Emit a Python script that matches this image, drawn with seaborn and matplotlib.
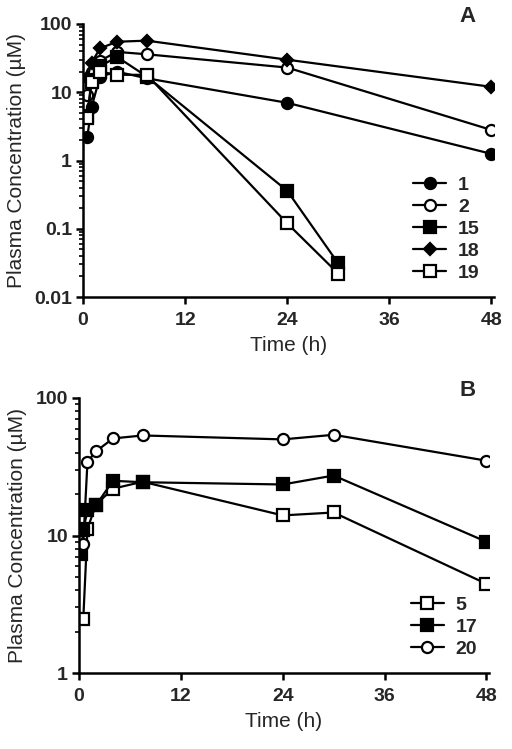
import numpy as np
import pandas as pd
import matplotlib
matplotlib.use("Agg")
import matplotlib.pyplot as plt
import matplotlib.ticker as mticker
import seaborn as sns

# ---------------- data ----------------
# Panel A
time_a_long = [0.5, 1, 2, 4, 7.5, 24, 48]
time_a_short = [0.5, 1, 2, 4, 7.5, 24, 30]
conc_1 = [2.2, 6.0, 17, 20, 16, 7.0, 1.25]
conc_2 = [9.0, 20, 29, 39, 36, 23, 2.8]
conc_15 = [4.5, 15, 24, 33, 17, 0.36, 0.031]
conc_18 = [16, 27, 44, 55, 57, 30, 12]
conc_19 = [4.2, 14, 20, 18, 18, 0.12, 0.022]

# Panel B
time_b = [0.5, 1, 2, 4, 7.5, 24, 30, 48]
time_b17 = [0.25, 0.5, 1, 2, 4, 7.5, 24, 30, 48]
conc_5 = [2.45, 11.2, 16.8, 21.9, 24.6, 14.0, 14.7, 4.45]
conc_17 = [7.3, 11, 15.2, 16.6, 25, 24.4, 23.5, 27.3, 9.0]
conc_20 = [8.7, 34.5, 40.9, 50.8, 53.4, 50, 54, 35]

xticks = [0, 12, 24, 36, 48]
yticks_a = [0.01, 0.1, 1, 10, 100]
ytick_labels_a = ["0.01", "0.1", "1", "10", "100"]
yticks_b = [1, 10, 100]
ytick_labels_b = ["1", "10", "100"]

sns.set_theme(style="ticks")
plt.rcParams['font.family'] = ['Liberation Sans', 'DejaVu Sans']

fig = plt.figure(figsize=(5.12, 7.49), dpi=100)
axA = fig.add_axes([83/512, 1-297/749, (494-83)/512, (297-24)/749])
axB = fig.add_axes([79/512, 1-673/749, (489-79)/512, (673-398)/749])

lw = 1.6
ms = 8

def draw(ax, t, c, label, marker, filled, size=ms):
    df = pd.DataFrame({"Time": t, "Conc": c})
    sns.lineplot(data=df, x="Time", y="Conc", ax=ax, color="black", lw=lw,
                 marker=marker, markersize=size,
                 markerfacecolor=("black" if filled else "white"),
                 markeredgecolor="black", markeredgewidth=1.6,
                 label=label, estimator=None, sort=False)

draw(axA, time_a_long, conc_1, "1", "o", True)
draw(axA, time_a_long, conc_2, "2", "o", False)
draw(axA, time_a_short, conc_15, "15", "s", True)
draw(axA, time_a_long, conc_18, "18", "D", True, 6.5)
draw(axA, time_a_short, conc_19, "19", "s", False)

draw(axB, time_b, conc_5, "5", "s", False)
draw(axB, time_b17, conc_17, "17", "s", True)
draw(axB, time_b, conc_20, "20", "o", False)

def style(ax, yticks, ylabels, ylim):
    ax.set_yscale("log")
    ax.set_ylim(*ylim)
    ax.set_xlim(0, 48.3)
    ax.set_xticks(xticks)
    ax.set_xticklabels([str(v) for v in xticks])
    ax.yaxis.set_major_locator(mticker.FixedLocator(yticks))
    ax.yaxis.set_major_formatter(mticker.FixedFormatter(ylabels))
    ax.yaxis.set_minor_locator(mticker.LogLocator(base=10, subs=np.arange(2, 10)))
    ax.yaxis.set_minor_formatter(mticker.NullFormatter())
    for s in ["top", "right"]:
        ax.spines[s].set_visible(False)
    for s in ["left", "bottom"]:
        ax.spines[s].set_linewidth(1.8)
        ax.spines[s].set_color("black")
    ax.tick_params(axis="both", which="major", length=5, width=1.8, color="black",
                   labelsize=14, pad=3)
    ax.tick_params(axis="x", which="major", pad=6)
    ax.tick_params(axis="y", which="minor", length=3, width=1.2, color="black")
    for lab in ax.get_xticklabels() + ax.get_yticklabels():
        lab.set_fontweight("bold")
    ax.set_xlabel("Time (h)", fontsize=15, labelpad=5)
    ax.set_ylabel("Plasma Concentration (\u00b5M)", fontsize=15, labelpad=6)
    ax.set_facecolor("white")

style(axA, yticks_a, ytick_labels_a, (0.01, 100))
style(axB, yticks_b, ytick_labels_b, (1, 100))

legA = axA.legend(loc="lower left", bbox_to_anchor=(0.78, 0.02), frameon=False,
                  prop={"weight": "bold", "size": 14}, handlelength=1.7,
                  labelspacing=0.22, handletextpad=0.6, borderpad=0)
legB = axB.legend(loc="lower left", bbox_to_anchor=(0.785, 0.02), frameon=False,
                  prop={"weight": "bold", "size": 14}, handlelength=1.7,
                  labelspacing=0.22, handletextpad=0.6, borderpad=0)

fig.text(467/512, 1-17/749, "A", fontsize=16, fontweight="bold", ha="center", va="center")
fig.text(468/512, 1-390/749, "B", fontsize=16, fontweight="bold", ha="center", va="center")

fig.savefig("out.png", dpi=100, facecolor="white")
